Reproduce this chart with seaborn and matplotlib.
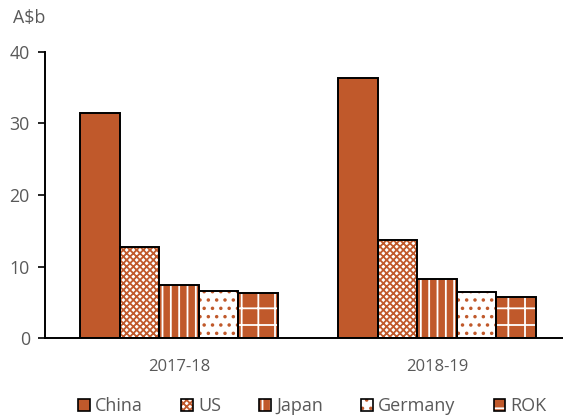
import pandas as pd
import numpy as np
import matplotlib.pyplot as plt
import seaborn as sns
from matplotlib.patches import Patch, Rectangle
from matplotlib.legend_handler import HandlerTuple

sns.set_style("white")
plt.rcParams["font.family"] = ["Open Sans", "DejaVu Sans"]
plt.rcParams["hatch.linewidth"] = 1.3

years = ["2017-18", "2018-19"]
partners = ["China", "US", "Japan", "Germany", "ROK"]
china = [31.5, 36.4]
us = [12.8, 13.7]
japan = [7.4, 8.2]
germany = [6.6, 6.4]
rok = [6.3, 5.7]

df = pd.DataFrame({
    "year": years * 5,
    "partner": np.repeat(partners, 2),
    "value": china + us + japan + germany + rok,
})

orange = "#C0592B"
grey = "#595959"
# face, hatch colour, hatch pattern per partner
styles = {
    "China": (orange, orange, ""),
    "US": ("white", orange, "xxxxx"),
    "Japan": (orange, "white", "||"),
    "Germany": ("white", orange, ".."),
    "ROK": (orange, "white", "+"),
}

fig = plt.figure(figsize=(5.63, 4.18), dpi=100)
ax = fig.add_axes([0.08, 0.191, 0.92, 0.685])

sns.barplot(data=df, x="year", y="value", hue="partner", hue_order=partners,
            order=years, width=0.767, gap=0, legend=False, ax=ax)

for name, cont in zip(partners, ax.containers):
    face, hcol, hatch = styles[name]
    for bar in cont:
        bar.set_facecolor(face)
        bar.set_edgecolor(hcol)
        bar.set_linewidth(0)
        bar.set_hatch(hatch)
        ax.add_patch(Rectangle(bar.get_xy(), bar.get_width(), bar.get_height(),
                               fill=False, edgecolor="black", lw=1.4, zorder=3))

ax.set_ylim(0, 40)
ax.set_xlim(-0.519, 1.489)
ax.set_yticks([0, 10, 20, 30, 40])
ax.set_xticks([0, 1])
ax.set_xticks([0.5], minor=True)
ax.tick_params(axis="x", which="major", length=0, pad=15, labelsize=12, colors=grey)
ax.tick_params(axis="x", which="minor", length=5, width=1.2, color=grey)
ax.tick_params(axis="y", length=5, width=1.2, color="black", labelsize=12.8,
               labelcolor=grey, pad=6, left=True)
ax.set_xlabel("")
ax.set_ylabel("")
sns.despine(ax=ax, top=True, right=True)
for s in ["left", "bottom"]:
    ax.spines[s].set_color("black")
    ax.spines[s].set_linewidth(1.4)

fig.text(0.023, 0.945, "A$b", fontsize=12.8, color=grey)

handles = []
for name in partners:
    face, hcol, hatch = styles[name]
    handles.append((Patch(facecolor=face, edgecolor=hcol, hatch=hatch, lw=0),
                    Patch(fill=False, edgecolor="black", lw=1.2)))
fig.legend(handles, partners, handler_map={tuple: HandlerTuple(ndivide=1)},
           loc="center", bbox_to_anchor=(0.555, 0.029), ncol=5, frameon=False,
           handlelength=0.65, handleheight=0.65, handletextpad=0.3,
           columnspacing=2.1, fontsize=13, labelcolor=grey)

fig.savefig("out.png", dpi=100)
